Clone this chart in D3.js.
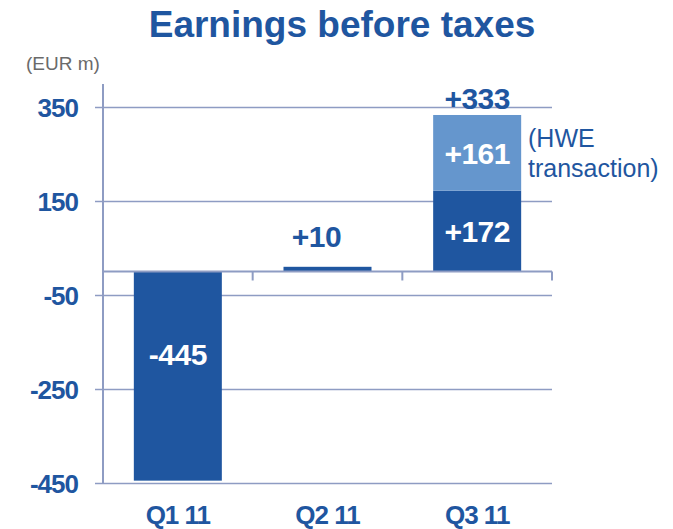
<!DOCTYPE html>
<html>
<head>
<meta charset="utf-8">
<script src="https://cdn.jsdelivr.net/npm/d3@7"></script>
<style>
  body { margin: 0; background: #fff; }
  svg text { font-family: "Liberation Sans", Arial, sans-serif; }
</style>
</head>
<body>
<div id="chart"></div>
<script>
// quarters and values (EUR m)
var quarters = ['Q1 11', 'Q2 11', 'Q3 11'];
var baseValues = [-445, 10, 172];
var hweValues = [0, 0, 161];
var totalLabels = ['-445', '+10', '+333'];
var yTicks = [350, 150, -50, -250, -450];

var W = 673, H = 529;
var dark = '#1f56a0', light = '#6596cd', grid = '#8e9cc3';

var svg = d3.select('#chart').append('svg')
  .attr('width', W)
  .attr('height', H);

var x = d3.scaleBand()
  .domain(quarters)
  .range([103, 552])
  .paddingInner(0.412)
  .paddingOuter(0.206);

var y = d3.scaleLinear()
  .domain([-450, 350])
  .range([483, 107]);

// title
svg.append('text')
  .attr('x', 342).attr('y', 37)
  .attr('text-anchor', 'middle')
  .style('font-size', '37px').style('font-weight', 'bold')
  .style('fill', dark)
  .text('Earnings before taxes');

svg.append('text')
  .attr('x', 26).attr('y', 70)
  .style('font-size', '19px')
  .style('fill', '#6a6a6a')
  .text('(EUR m)');

// gridlines + labels
var yAxis = d3.axisLeft(y)
  .tickValues(yTicks)
  .tickSize(-(552 - 95))
  .tickFormat(function(d) { return String(d); });

var gy = svg.append('g')
  .attr('transform', 'translate(95,0)')
  .call(yAxis);
gy.select('.domain').remove();
gy.selectAll('line').attr('stroke', grid).attr('stroke-width', 1.5);
gy.selectAll('text')
  .attr('x', 78 - 95)
  .attr('dy', '0.36em')
  .style('font-size', '26px').style('font-weight', 'bold')
  .style('fill', dark)
  .style('letter-spacing', '-1px');

// vertical axis line
svg.append('line')
  .attr('x1', 103).attr('x2', 103)
  .attr('y1', 84).attr('y2', y(-450))
  .attr('stroke', grid).attr('stroke-width', 2);

// bars
var bars = svg.append('g');
bars.selectAll('rect.base')
  .data(quarters)
  .enter().append('rect')
  .attr('class', 'base')
  .attr('x', function(d) { return x(d); })
  .attr('width', x.bandwidth())
  .attr('y', function(d, i) { return y(Math.max(0, baseValues[i])); })
  .attr('height', function(d, i) { return Math.abs(y(baseValues[i]) - y(0)); })
  .attr('fill', dark);

bars.selectAll('rect.hwe')
  .data(quarters.filter(function(d, i) { return hweValues[i] > 0; }))
  .enter().append('rect')
  .attr('class', 'hwe')
  .attr('x', function(d) { return x(d); })
  .attr('width', x.bandwidth())
  .attr('y', function(d) {
    var i = quarters.indexOf(d);
    return y(baseValues[i] + hweValues[i]);
  })
  .attr('height', function(d) {
    var i = quarters.indexOf(d);
    return y(baseValues[i]) - y(baseValues[i] + hweValues[i]);
  })
  .attr('fill', light);

// zero line with category ticks
svg.append('line')
  .attr('x1', 103).attr('x2', 552)
  .attr('y1', y(0)).attr('y2', y(0))
  .attr('stroke', grid).attr('stroke-width', 2);
var sep = [103].concat(quarters.map(function(d) { return x(d) + x.bandwidth() + x.step() * x.paddingInner() / 2; }));
svg.selectAll('line.sep')
  .data(sep)
  .enter().append('line')
  .attr('class', 'sep')
  .attr('x1', function(d) { return d; }).attr('x2', function(d) { return d; })
  .attr('y1', y(0)).attr('y2', y(0) + 9)
  .attr('stroke', grid).attr('stroke-width', 2);

// category labels
svg.selectAll('text.cat')
  .data(quarters)
  .enter().append('text')
  .attr('class', 'cat')
  .attr('x', function(d) { return x(d) + x.bandwidth() / 2; })
  .attr('y', 524)
  .attr('text-anchor', 'middle')
  .style('font-size', '26px').style('font-weight', 'bold')
  .style('fill', dark)
  .style('letter-spacing', '-1px')
  .text(function(d) { return d; });

// value labels
function label(xc, yc, txt, col) {
  svg.append('text')
    .attr('x', xc).attr('y', yc)
    .attr('text-anchor', 'middle')
    .style('font-size', '30px').style('font-weight', 'bold')
    .style('fill', col)
    .style('letter-spacing', '-0.5px')
    .text(txt);
}
var cx = function(i) { return x(quarters[i]) + x.bandwidth() / 2; };
label(cx(0), y(-175) + 11, totalLabels[0], '#fff');
label(cx(1) - 11, y(baseValues[1]) - 20, totalLabels[1], dark);
label(cx(2), y(baseValues[2] + hweValues[2]) - 6, totalLabels[2], dark);
label(cx(2), (y(0) + y(baseValues[2])) / 2 + 11, '+' + baseValues[2], '#fff');
label(cx(2), (y(baseValues[2]) + y(baseValues[2] + hweValues[2])) / 2 + 11, '+' + hweValues[2], '#fff');

// HWE note
var note = svg.append('text')
  .attr('x', 528).attr('y', 147)
  .style('font-size', '25px')
  .style('fill', dark);
note.append('tspan').attr('x', 528).text('(HWE');
note.append('tspan').attr('x', 528).attr('dy', 30).text('transaction)');
</script>
</body>
</html>
